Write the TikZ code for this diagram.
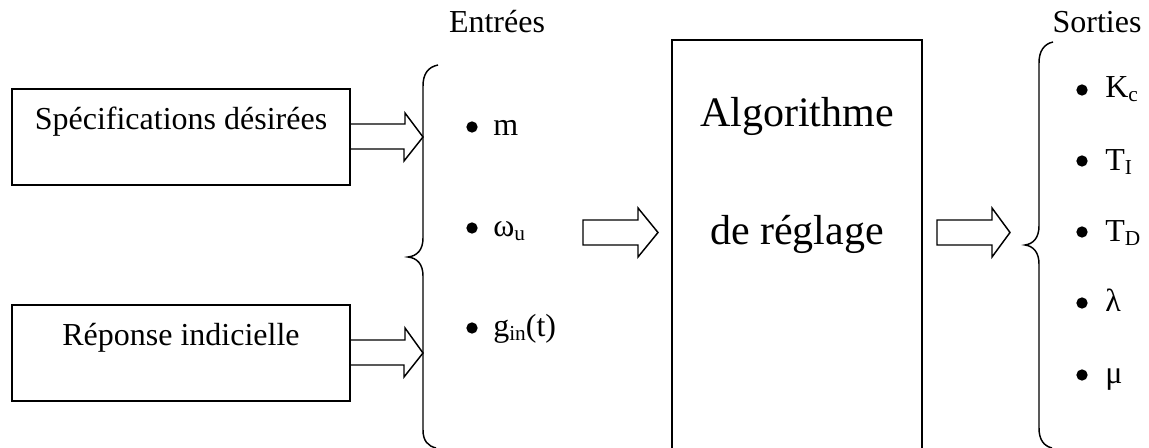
\documentclass[tikz,border=0pt]{standalone}
\usepackage{fontspec}
\setmainfont{Liberation Serif}
\newcommand\lowsub[1]{\raisebox{-2.5pt}{\fontsize{16}{16}\selectfont #1}}
\begin{document}
\begin{tikzpicture}[x=0.75pt,y=-0.75pt,
  boxframe/.style={draw,line width=1.5pt,minimum width=253.5pt,minimum height=72pt,inner sep=0pt},
  txt/.style={font=\fontsize{24}{28}\selectfont,inner sep=0pt,anchor=base},
  bigtxt/.style={font=\fontsize{31.5}{36}\selectfont,inner sep=0pt,anchor=base},
  item/.style={font=\fontsize{24}{28}\selectfont,inner sep=0pt,anchor=base west},
  dot/.style={circle,fill=black,inner sep=0pt,minimum size=8.5pt},
  hollow/.style={draw,line width=1.1pt,line join=miter},
  brace/.style={draw,line width=1.1pt}]
\useasboundingbox (0,0) rectangle (1149,448);
% left boxes
\node[boxframe] (spec) at (181,137) {};
\node[txt] (spectxt) at (181,130) {Spécifications désirées};
\node[boxframe] (rep) at (181,353) {};
\node[txt] (reptxt) at (181,346) {Réponse indicielle};
% double-line arrows
\coordinate (b1) at (423,137);
\coordinate (b2) at (423,353);
\draw[hollow] ([yshift=9.75pt]spec.east) -- ++(54,0) -- ++(0,-11) -- (b1) -- ++(-19,24) -- ++(0,-12) -- ([yshift=-9pt]spec.east);
\draw[hollow] ([yshift=9.75pt]rep.east) -- ++(54,0) -- ++(0,-12) -- (b2) -- ++(-19,24) -- ++(0,-12) -- ([yshift=-9pt]rep.east);
% left brace
\path[brace] (438,65) .. controls (428,67) and (423,74) .. (423,86) -- (423,238)
  .. controls (423,250) and (417,256) .. (408,257)
  .. controls (417,258) and (423,264) .. (423,276) -- (423,430)
  .. controls (423,441) and (428,446) .. (436,448);
\node[txt] (entrees) at (497,33) {Entrées};
% input items
\node[dot] (d1) at (472,127) {};
\node[item] (im) at (493,136) {m};
\node[dot] (d2) at (472,228) {};
\node[item] (iw) at (493,237) {ω\lowsub{u}};
\node[dot] (d3) at (472,328) {};
\node[item] (ig) at (493,337) {g\lowsub{in}(t)};
% middle arrow
\draw[hollow] (583,220) -- (638,220) -- (638,208) -- (658,232.5) -- (638,257) -- (638,245) -- (583,245) -- cycle;
% algorithm box
\draw[line width=1.5pt] (672,449) -- (672,40) -- (922,40) -- (922,449);
\node[bigtxt] (alg1) at (797,127) {Algorithme};
\node[bigtxt] (alg2) at (797,245) {de réglage};
% right arrow
\draw[hollow] (937,220) -- (992,220) -- (992,208) -- (1010,232.5) -- (992,257) -- (992,245) -- (937,245) -- cycle;
% right brace
\path[brace] (1053,42) .. controls (1044,44) and (1039,51) .. (1039,63) -- (1039,226)
  .. controls (1039,238) and (1033,244) .. (1025,245)
  .. controls (1033,246) and (1039,252) .. (1039,264) -- (1039,428)
  .. controls (1039,440) and (1044,446) .. (1052,448);
\node[txt] (sorties) at (1097,33) {Sorties};
% output items
\node[dot] (o1) at (1082,90) {};
\node[item] (ok) at (1105,98) {K\lowsub{c}};
\node[dot] (o2) at (1082,161) {};
\node[item] (oti) at (1105,171) {T\lowsub{I}};
\node[dot] (o3) at (1082,232) {};
\node[item] (otd) at (1105,242) {T\lowsub{D}};
\node[dot] (o4) at (1082,303) {};
\node[item] (ol) at (1105,312) {λ};
\node[dot] (o5) at (1082,375) {};
\node[item] (omu) at (1105,384) {μ};
\end{tikzpicture}
\end{document}
